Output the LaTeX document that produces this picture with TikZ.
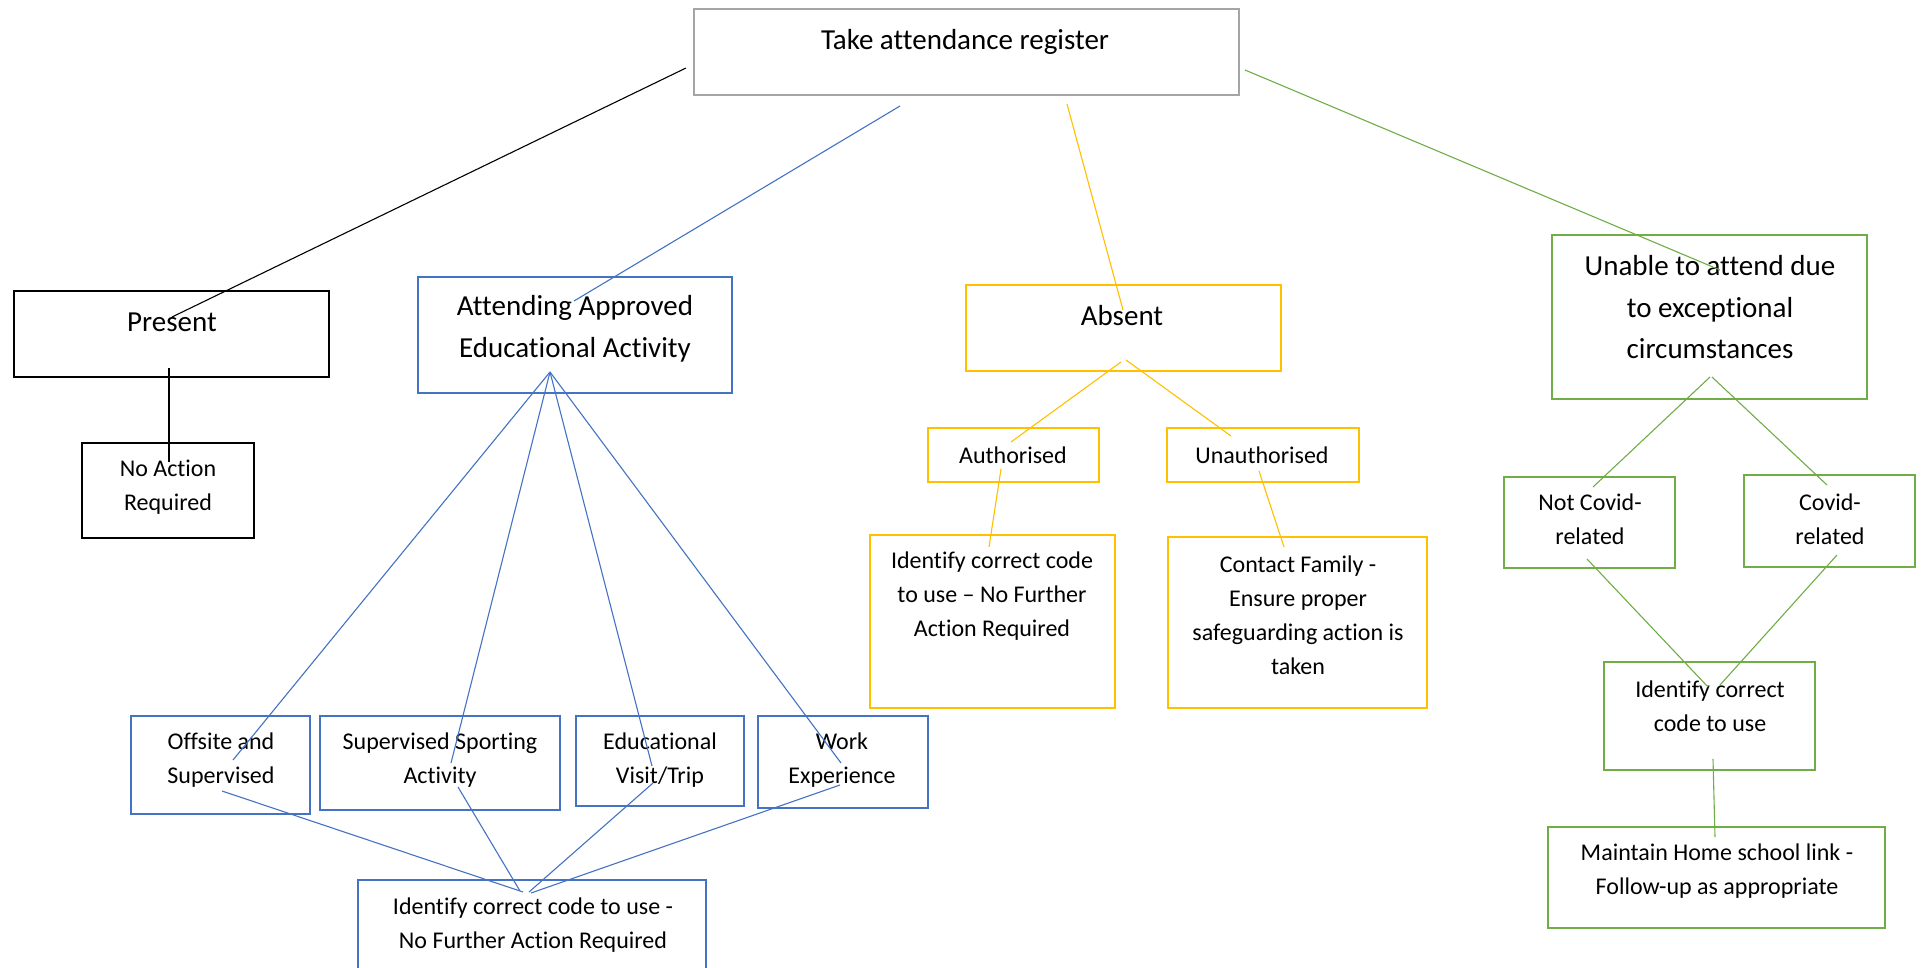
\documentclass[tikz,border=0pt]{standalone}
\usepackage{fontspec}
\setmainfont{Carlito}[Ligatures=CommonOff]
\usetikzlibrary{calc}
\definecolor{cgrey}{HTML}{A5A5A5}
\definecolor{cblue}{HTML}{4472C4}
\definecolor{corange}{HTML}{FFC000}
\definecolor{cgreen}{HTML}{70AD47}
\tikzset{
  box/.style={draw, rectangle, inner sep=0pt, line width=2.8pt},
  greybox/.style={box, draw=cgrey},
  blackbox/.style={box, draw=black},
  bluebox/.style={box, draw=cblue},
  orangebox/.style={box, draw=corange},
  greenbox/.style={box, draw=cgreen},
  big/.style={align=center, inner sep=0pt, font=\fontsize{29}{41.5}\selectfont},
  small/.style={align=center, inner sep=0pt, font=\fontsize{24}{34}\selectfont},
  link/.style={line width=1.1pt},
  blacklink/.style={link, draw=black},
  bluelink/.style={link, draw=cblue},
  orangelink/.style={link, draw=corange},
  greenlink/.style={link, draw=cgreen},
}
\begin{document}
\begin{tikzpicture}[x=1pt, y=-1pt]
\path[use as bounding box, fill=white] (0,0) rectangle (1923,968);
% boxes
\node[greybox, minimum width=545, minimum height=86] (top) at (966.5,52) {};
\node[blackbox, minimum width=315, minimum height=86] (present) at (171.5,334) {};
\node[blackbox, minimum width=172, minimum height=95] (noaction) at (168,490.5) {};
\node[bluebox, minimum width=314, minimum height=116] (attend) at (575,335) {};
\node[bluebox, minimum width=179, minimum height=98] (offsite) at (220.5,765) {};
\node[bluebox, minimum width=240, minimum height=94] (sport) at (440,763) {};
\node[bluebox, minimum width=168, minimum height=90] (edu) at (660,761) {};
\node[bluebox, minimum width=170, minimum height=92] (work) at (843,762) {};
\node[bluebox, minimum width=348, minimum height=110] (idblue) at (532,935) {};
\node[orangebox, minimum width=315, minimum height=86] (absent) at (1123.5,328) {};
\node[orangebox, minimum width=171, minimum height=54] (auth) at (1013.5,455) {};
\node[orangebox, minimum width=192, minimum height=54] (unauth) at (1263,455) {};
\node[orangebox, minimum width=245, minimum height=173] (idorange) at (992.5,621.5) {};
\node[orangebox, minimum width=259, minimum height=171] (contact) at (1297.5,622.5) {};
\node[greenbox, minimum width=315, minimum height=164] (unable) at (1709.5,317) {};
\node[greenbox, minimum width=171, minimum height=91] (notcovid) at (1589.5,522.5) {};
\node[greenbox, minimum width=171, minimum height=92] (covid) at (1829.5,521) {};
\node[greenbox, minimum width=211, minimum height=108] (idgreen) at (1709.5,716) {};
\node[greenbox, minimum width=337, minimum height=101] (maintain) at (1716.5,877.5) {};
% texts
\node[big] (top-t) at (965,41.5) {Take attendance register};
\node[big] (present-t) at (172,322) {Present};
\node[small] (noaction-t) at (168,487) {No Action\\Required};
\node[big] (attend-t) at (575,329) {Attending Approved\\Educational Activity};
\node[small] (offsite-t) at (221,760.5) {Offsite and\\Supervised};
\node[small] (sport-t) at (440,760.5) {Supervised Sporting\\Activity};
\node[small] (edu-t) at (660,760.5) {Educational\\Visit/Trip};
\node[small] (work-t) at (842,760.5) {Work\\Experience};
\node[small] (idblue-t) at (533,925) {Identify correct code to use -\\No Further Action Required};
\node[big] (absent-t) at (1122,316) {Absent};
\node[small] (auth-t) at (1013,455) {Authorised};
\node[small] (unauth-t) at (1262,455) {Unauthorised};
\node[small] (idorange-t) at (992,596) {Identify correct code\\to use – No Further\\Action Required};
\node[small] (contact-t) at (1298,615) {Contact Family -\\Ensure proper\\safeguarding action is\\taken};
\node[big] (unable-t) at (1710,307.5) {Unable to attend due\\to exceptional\\circumstances};
\node[small] (notcovid-t) at (1590,519.5) {Not Covid-\\related};
\node[small] (covid-t) at (1830,519.5) {Covid-\\related};
\node[small] (idgreen-t) at (1710,706) {Identify correct\\code to use};
\node[small] (maintain-t) at (1717,871.5) {Maintain Home school link -\\Follow-up as appropriate};
% connectors
\draw[blacklink] ($(top)+(-280.5,16)$) -- ($(present)+(0.5,-17)$);
\draw[bluelink] ($(top)+(-66.5,54)$) -- ($(attend)+(-1,-34)$);
\draw[orangelink] ($(top)+(100.5,52)$) -- ($(absent)+(-0.5,-18)$);
\draw[greenlink] ($(top)+(278.5,18)$) -- ($(unable)+(10.5,-47)$);
\draw[blacklink] ($(present)+(-2.5,34)$) -- ($(noaction)+(1,-28.5)$);
\draw[bluelink] ($(attend)+(-25,37)$) -- ($(offsite)+(12.5,-5)$);
\draw[bluelink] ($(attend)+(-25,37)$) -- ($(sport)+(11,0)$);
\draw[bluelink] ($(attend)+(-25,37)$) -- ($(edu)+(-8,5)$);
\draw[bluelink] ($(attend)+(-25,37)$) -- ($(work)+(-2,1)$);
\draw[bluelink] ($(offsite)+(1.5,26)$) -- ($(idblue)+(-9,-43)$);
\draw[bluelink] ($(sport)+(18,24)$) -- ($(idblue)+(-12,-44)$);
\draw[bluelink] ($(edu)+(-7,22)$) -- ($(idblue)+(-3,-43)$);
\draw[bluelink] ($(work)+(-3,23)$) -- ($(idblue)+(-1,-42)$);
\draw[orangelink] ($(absent)+(-2.5,34)$) -- ($(auth)+(-2.5,-13)$);
\draw[orangelink] ($(absent)+(2.5,32)$) -- ($(unauth)+(-32,-19)$);
\draw[orangelink] ($(auth)+(-12.5,14)$) -- ($(idorange)+(-3.5,-74.5)$);
\draw[orangelink] ($(unauth)+(-4,16)$) -- ($(contact)+(-13.5,-75.5)$);
\draw[greenlink] ($(unable)+(0.5,60)$) -- ($(notcovid)+(3.5,-35.5)$);
\draw[greenlink] ($(unable)+(2.5,60)$) -- ($(covid)+(-2.5,-36)$);
\draw[greenlink] ($(notcovid)+(-2.5,36.5)$) -- ($(idgreen)+(-1.5,-29)$);
\draw[greenlink] ($(covid)+(7.5,34)$) -- ($(idgreen)+(10.5,-31)$);
\draw[greenlink] ($(idgreen)+(3.5,43)$) -- ($(maintain)+(-1.5,-40.5)$);
\end{tikzpicture}
\end{document}
